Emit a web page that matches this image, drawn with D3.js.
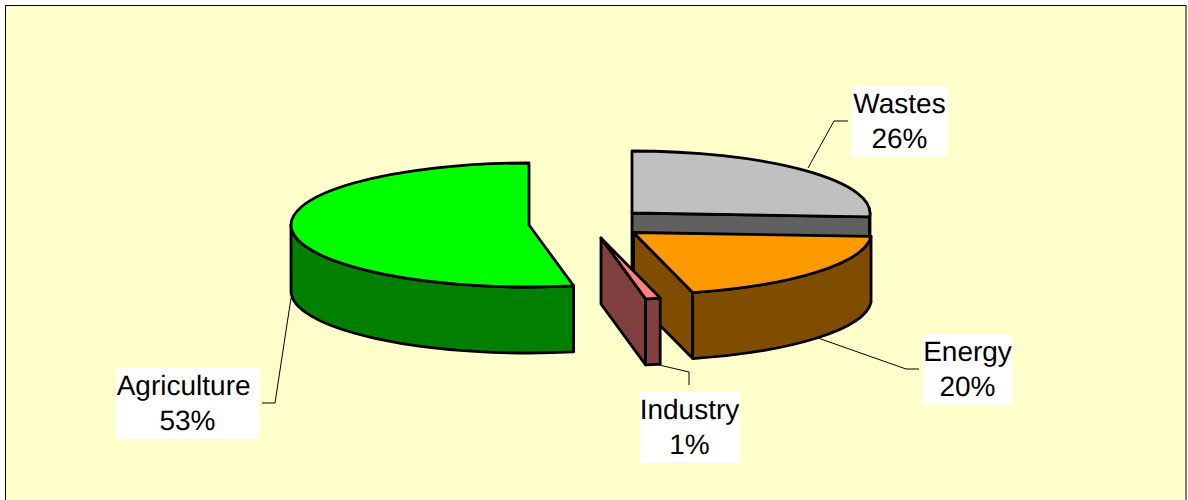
<!DOCTYPE html>
<html>
<head>
<meta charset="utf-8">
<script src="https://cdnjs.cloudflare.com/ajax/libs/d3/7.8.5/d3.min.js"></script>
<style>html,body{margin:0;padding:0;background:#fff}svg{display:block}</style>
</head>
<body>
<script>
const categories = ["Wastes", "Energy", "Industry", "Agriculture"];
const values = [26, 20, 1, 53];
const percentLabels = ["26%", "20%", "1%", "53%"];
const topColors = ["#C0C0C0", "#FF9900", "#FF8080", "#00FF00"];
const sideColors = ["#606060", "#7F4C00", "#804040", "#007F00"];

// layout (pixels)
const W = 1188, H = 500;
const rx = 238, ry = 62, depth = 66;
const centers = [[632, 213], [633.5, 232.5], [601, 238], [529, 225]];
const labelBoxes = [[852, 86, 95, 71], [923, 334, 89, 71], [640, 392, 99, 71], [116, 368, 143, 71]];
const leaders = [
  [[808, 168], [834, 121], [848, 121]],
  [[818, 338], [906, 369], [919, 369]],
  [[655, 364], [689, 372], [689, 385]],
  [[291, 298], [275, 403], [262, 403]]
];

const svg = d3.select("body").append("svg").attr("width", W).attr("height", H);
svg.append("rect").attr("x", 5.5).attr("y", 5.5).attr("width", 1180.5).attr("height", 500)
  .attr("fill", "#FFFFCC").attr("stroke", "#000").attr("stroke-width", 1);

const arcs = d3.pie().sort(null).value(d => d)(values);
const pt = (a, c, dy = 0) => [c[0] + rx * Math.sin(a), c[1] - ry * Math.cos(a) + dy];

const topArc = d3.arc().innerRadius(0).outerRadius(rx);

function wallPath(a0, a1, c) {
  const s = Math.max(a0, Math.PI / 2), e = Math.min(a1, 3 * Math.PI / 2);
  if (e <= s) return null;
  const p0 = pt(s, c), p1 = pt(e, c), p2 = pt(e, c, depth), p3 = pt(s, c, depth);
  return `M${p0}A${rx},${ry} 0 0 1 ${p1}L${p2}A${rx},${ry} 0 0 0 ${p3}Z`;
}
function facePath(a, c) {
  const p = pt(a, c);
  return `M${c}L${p}L${p[0]},${p[1] + depth}L${c[0]},${c[1] + depth}Z`;
}

const stroke = { stroke: "#000", "stroke-width": 2.8, "stroke-linejoin": "round" };
const g = svg.append("g");
const styled = s => { Object.entries(stroke).forEach(([k, v]) => s.attr(k, v)); return s; };

arcs.forEach((d, i) => {
  const c = centers[i];
  const sl = g.append("g").attr("class", "slice");
  // cut face at end angle, visible only for slices ending on the near right/left
  if (i !== 3) styled(sl.append("path")).attr("d", facePath(d.endAngle, c)).attr("fill", sideColors[i]);
  const w = wallPath(d.startAngle, d.endAngle, c);
  if (w) styled(sl.append("path")).attr("d", w).attr("fill", sideColors[i]);
  styled(sl.append("path"))
    .attr("d", topArc(d))
    .attr("transform", `translate(${c}) scale(1,${ry / rx})`)
    .attr("vector-effect", "non-scaling-stroke")
    .attr("fill", topColors[i]);
});

const line = d3.line();
leaders.forEach(l => {
  svg.append("path").attr("d", line(l)).attr("fill", "none").attr("stroke", "#000").attr("stroke-width", 1);
});

categories.forEach((name, i) => {
  const [x, y, w, h] = labelBoxes[i];
  svg.append("rect").attr("x", x).attr("y", y).attr("width", w).attr("height", h).attr("fill", "#fff");
  const t = svg.append("text")
    .attr("font-family", "'Liberation Sans', Arial, sans-serif")
    .attr("font-size", 28)
    .attr("fill", "#000")
    .attr("text-anchor", "middle")
    .attr("text-rendering", "geometricPrecision");
  t.append("tspan").attr("x", x + w / 2).attr("y", y + 27).text(name + (name === "Agriculture" ? "\u00A0" : ""));
  t.append("tspan").attr("x", x + w / 2).attr("y", y + 62).text(percentLabels[i]);
});
</script>
</body>
</html>
